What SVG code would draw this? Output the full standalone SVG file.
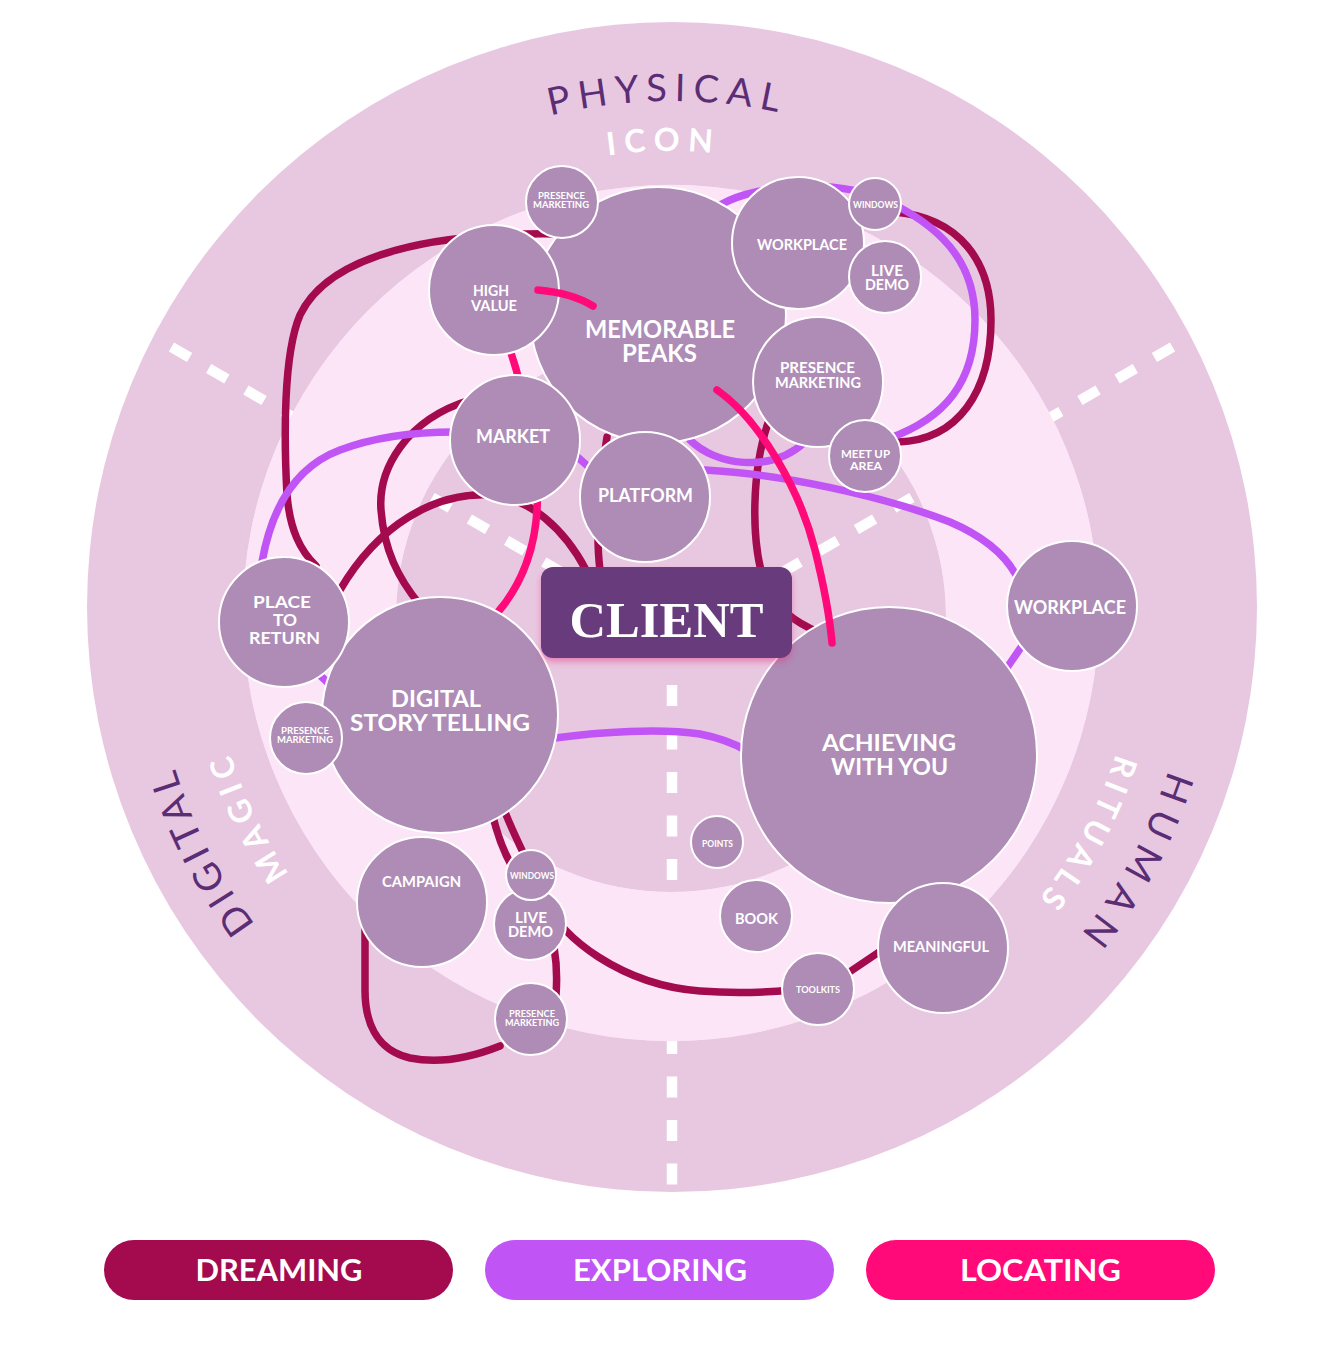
<svg xmlns="http://www.w3.org/2000/svg" width="1344" height="1345" viewBox="0 0 1344 1345">
<defs>
<style>
.bg-outer{fill:#e8c8e1}
.bg-band{fill:#fbe5f6}
.dash{fill:none;stroke:#fff;stroke-width:10.5;stroke-dasharray:21 22}
.node circle{fill:#ae8cb6;stroke:#fff;stroke-width:2}
.lbl{font-family:Lato,"Open Sans","Liberation Sans",sans-serif;font-weight:700;fill:#fff;text-anchor:middle}
.arc-big{font-family:Lato,"Open Sans","Liberation Sans",sans-serif;font-weight:400;fill:#5b2d75;font-size:38px}
.arc-small{font-family:Lato,"Open Sans","Liberation Sans",sans-serif;font-weight:700;fill:#fff;font-size:32px}
.c{fill:none;stroke-width:7.5;stroke-linecap:round}
.dream{stroke:#a30b4e}
.explore{stroke:#c054f5}
.locate{stroke:#ff0a78}
.pill-text{font-family:Lato,"Open Sans","Liberation Sans",sans-serif;font-weight:700;fill:#fff;font-size:30px;text-anchor:middle}
</style>
<clipPath id="outerClip"><circle cx="672" cy="607" r="585"/></clipPath>
<filter id="shadow" x="-10%" y="-20%" width="120%" height="150%">
<feDropShadow dx="0" dy="4" stdDeviation="3" flood-color="#e0307f" flood-opacity="0.45"/>
</filter>
<path id="arcPhysical" d="M 277.7,287 A 511,511 0 0 1 1060.6,280.2"/>
<path id="arcIcon" d="M 313.7,321.9 A 461,461 0 0 1 1019.9,309.5"/>
<path id="arcDigital" d="M 467.6,1091.2 A 521,521 0 0 1 164.5,493.9"/>
<path id="arcMagic" d="M 481.1,1034.9 A 464,464 0 0 1 222.4,497.4"/>
<path id="arcHuman" d="M 1182.5,508.1 A 521,521 0 0 1 862.9,1096.7"/>
<path id="arcRituals" d="M 1128.2,516.7 A 466,466 0 0 1 845.1,1044.7"/>
</defs>

<rect width="1344" height="1345" fill="#fff"/>

<g id="background">
<circle class="bg-outer" cx="672" cy="607" r="585"/>
<circle class="bg-band" cx="671" cy="613" r="428"/>
<circle class="bg-outer" cx="671" cy="617" r="275"/>
<g clip-path="url(#outerClip)">
<line class="dash" x1="672" y1="636" x2="135" y2="326" stroke-dashoffset="2"/>
<line class="dash" x1="672" y1="636" x2="1209" y2="326" stroke-dashoffset="2"/>
<line class="dash" x1="672" y1="685" x2="672" y2="1200" style="stroke-dasharray:21 22.5"/>
</g>
<path fill="#fbe5f6" fill-rule="evenodd" d="M 243,613 A 428,428 0 1 0 1099,613 A 428,428 0 1 0 243,613 Z M 396,617 A 275,275 0 1 0 946,617 A 275,275 0 1 0 396,617 Z"/>
</g>

<g id="sector-labels">
<text class="arc-big" letter-spacing="7.5"><textPath href="#arcPhysical" startOffset="50%" text-anchor="middle">PHYSICAL</textPath></text>
<text class="arc-small" letter-spacing="8"><textPath href="#arcIcon" startOffset="50%" text-anchor="middle">ICON</textPath></text>
<text class="arc-big" letter-spacing="5.5"><textPath href="#arcDigital" startOffset="50%" text-anchor="middle">DIGITAL</textPath></text>
<text class="arc-small" letter-spacing="7"><textPath href="#arcMagic" startOffset="50%" text-anchor="middle">MAGIC</textPath></text>
<text class="arc-big" letter-spacing="10"><textPath href="#arcHuman" startOffset="50%" text-anchor="middle">HUMAN</textPath></text>
<text class="arc-small" letter-spacing="6"><textPath href="#arcRituals" startOffset="50%" text-anchor="middle">RITUALS</textPath></text>
</g>

<g id="connectors">
<path class="c dream" d="M 560,234 C 440,232 330,252 300,315 C 283,355 284,440 287,495 C 290,530 300,550 316,566"/>
<path class="c dream" d="M 470,400 C 405,420 378,470 381,510 C 384,550 398,578 420,605"/>
<path class="c dream" d="M 340,590 C 378,525 435,492 490,495 C 530,497 565,530 586,570"/>
<path class="c dream" d="M 607,437 C 600,480 595,530 600,570"/>
<path class="c dream" d="M 768,423 C 752,470 750,540 765,585 C 778,610 795,622 818,632"/>
<path class="c dream" d="M 895,212 C 960,218 991,262 991,320 C 991,392 958,440 898,442"/>
<path class="c dream" d="M 492,812 C 498,840 508,862 520,880 C 545,905 560,940 556,995"/>
<path class="c dream" d="M 505,812 C 518,845 535,875 548,905 C 560,935 620,985 700,991 C 740,994 770,992 792,990"/>
<path class="c dream" d="M 848,973 L 885,948"/>
<path class="c dream" d="M 500,1046 C 470,1058 440,1064 410,1058 C 375,1050 365,1020 365,990 L 365,930"/>
<path class="c explore" d="M 262,562 C 273,500 300,465 340,450 C 380,435 420,432 455,432"/>
<path class="c explore" d="M 555,738 C 600,732 660,728 700,734 C 720,738 735,744 745,750"/>
<path class="c explore" d="M 720,205 C 760,182 850,178 895,205 C 948,232 975,268 975,320 C 975,382 945,418 890,438"/>
<path class="c explore" d="M 690,440 C 715,465 770,474 805,442"/>
<path class="c explore" d="M 705,470 C 780,474 880,495 950,522 C 985,537 1005,555 1016,575"/>
<path class="c explore" d="M 1026,640 L 1004,672"/>
<path class="c explore" d="M 572,452 L 592,470"/>
<path class="c explore" d="M 312,668 L 338,692"/>
<path class="c locate" d="M 510,350 C 522,385 540,460 537,510 C 534,560 515,592 498,612"/>
</g>

<g id="nodes">
<g id="n-memorable-peaks" class="node"><circle cx="658" cy="315" r="128"/>
<text class="lbl" x="660" y="338.3" font-size="24" textLength="150" lengthAdjust="spacingAndGlyphs">MEMORABLE</text>
<text class="lbl" x="659.5" y="361.7" font-size="24" textLength="75" lengthAdjust="spacingAndGlyphs">PEAKS</text></g>
<g id="n-presence-marketing-top" class="node"><circle cx="562" cy="202" r="36"/>
<text class="lbl" x="561.5" y="198.5" font-size="8.5" textLength="47" lengthAdjust="spacingAndGlyphs">PRESENCE</text>
<text class="lbl" x="561" y="207.5" font-size="8.5" textLength="56" lengthAdjust="spacingAndGlyphs">MARKETING</text></g>
<g id="n-high-value" class="node"><circle cx="494" cy="290" r="65"/>
<text class="lbl" x="491" y="296" font-size="15" textLength="36" lengthAdjust="spacingAndGlyphs">HIGH</text>
<text class="lbl" x="494" y="311" font-size="15" textLength="46" lengthAdjust="spacingAndGlyphs">VALUE</text></g>
<g id="n-workplace-top" class="node"><circle cx="798" cy="243" r="66"/>
<text class="lbl" x="802" y="250" font-size="15.5" textLength="90" lengthAdjust="spacingAndGlyphs">WORKPLACE</text></g>
<g id="n-windows-top" class="node"><circle cx="875" cy="204" r="26"/>
<text class="lbl" x="875.5" y="207.7" font-size="8.5" textLength="45" lengthAdjust="spacingAndGlyphs">WINDOWS</text></g>
<g id="n-live-demo-top" class="node"><circle cx="885" cy="277" r="36"/>
<text class="lbl" x="887" y="276" font-size="15.5" textLength="32" lengthAdjust="spacingAndGlyphs">LIVE</text>
<text class="lbl" x="887" y="290" font-size="15.5" textLength="44" lengthAdjust="spacingAndGlyphs">DEMO</text></g>
<g id="n-presence-marketing-right" class="node"><circle cx="818" cy="382" r="65"/>
<text class="lbl" x="817.5" y="373.3" font-size="15" textLength="75" lengthAdjust="spacingAndGlyphs">PRESENCE</text>
<text class="lbl" x="818" y="388.3" font-size="15" textLength="86" lengthAdjust="spacingAndGlyphs">MARKETING</text></g>
<g id="n-meet-up-area" class="node"><circle cx="865" cy="456" r="36"/>
<text class="lbl" x="865.5" y="458.3" font-size="11.5" textLength="49" lengthAdjust="spacingAndGlyphs">MEET UP</text>
<text class="lbl" x="866" y="470" font-size="11.5" textLength="32" lengthAdjust="spacingAndGlyphs">AREA</text></g>
<g id="n-market" class="node"><circle cx="515" cy="440" r="65"/>
<text class="lbl" x="513" y="443.3" font-size="18.5" textLength="74" lengthAdjust="spacingAndGlyphs">MARKET</text></g>
<g id="n-platform" class="node"><circle cx="645" cy="497" r="65"/>
<text class="lbl" x="645.5" y="502" font-size="19" textLength="95" lengthAdjust="spacingAndGlyphs">PLATFORM</text></g>
<g id="n-digital-story-telling" class="node"><circle cx="440" cy="715" r="118"/>
<text class="lbl" x="436" y="706.7" font-size="23" textLength="90" lengthAdjust="spacingAndGlyphs">DIGITAL</text>
<text class="lbl" x="440" y="730.7" font-size="23" textLength="180" lengthAdjust="spacingAndGlyphs">STORY TELLING</text></g>
<g id="n-place-to-return" class="node"><circle cx="284" cy="622" r="65"/>
<text class="lbl" x="282" y="608.3" font-size="17.5" textLength="58" lengthAdjust="spacingAndGlyphs">PLACE</text>
<text class="lbl" x="285" y="626" font-size="17.5" textLength="24" lengthAdjust="spacingAndGlyphs">TO</text>
<text class="lbl" x="284.5" y="644" font-size="17.5" textLength="71" lengthAdjust="spacingAndGlyphs">RETURN</text></g>
<g id="n-presence-marketing-left" class="node"><circle cx="306" cy="738" r="36"/>
<text class="lbl" x="305" y="734.3" font-size="8.5" textLength="48" lengthAdjust="spacingAndGlyphs">PRESENCE</text>
<text class="lbl" x="305" y="743.3" font-size="8.5" textLength="56" lengthAdjust="spacingAndGlyphs">MARKETING</text></g>
<g id="n-workplace-right" class="node"><circle cx="1072" cy="606" r="65"/>
<text class="lbl" x="1070" y="614.3" font-size="19" textLength="112" lengthAdjust="spacingAndGlyphs">WORKPLACE</text></g>
<g id="n-achieving-with-you" class="node"><circle cx="889" cy="755" r="148"/>
<text class="lbl" x="889" y="750.7" font-size="23" textLength="134" lengthAdjust="spacingAndGlyphs">ACHIEVING</text>
<text class="lbl" x="889.5" y="775" font-size="23" textLength="117" lengthAdjust="spacingAndGlyphs">WITH YOU</text></g>
<g id="n-meaningful" class="node"><circle cx="943" cy="948" r="65"/>
<text class="lbl" x="941" y="951.7" font-size="15.5" textLength="96" lengthAdjust="spacingAndGlyphs">MEANINGFUL</text></g>
<g id="n-points" class="node"><circle cx="717" cy="842" r="26"/>
<text class="lbl" x="717.5" y="847.3" font-size="9.5" textLength="31" lengthAdjust="spacingAndGlyphs">POINTS</text></g>
<g id="n-book" class="node"><circle cx="756" cy="916" r="36"/>
<text class="lbl" x="756.5" y="924" font-size="15" textLength="43" lengthAdjust="spacingAndGlyphs">BOOK</text></g>
<g id="n-toolkits" class="node"><circle cx="818" cy="989" r="36"/>
<text class="lbl" x="818" y="992.7" font-size="10" textLength="44" lengthAdjust="spacingAndGlyphs">TOOLKITS</text></g>
<g id="n-campaign" class="node"><circle cx="422" cy="902" r="65"/>
<text class="lbl" x="421.5" y="886.7" font-size="16" textLength="79" lengthAdjust="spacingAndGlyphs">CAMPAIGN</text></g>
<g id="n-live-demo-bottom" class="node"><circle cx="530" cy="924" r="36"/>
<text class="lbl" x="531" y="923" font-size="15" textLength="32" lengthAdjust="spacingAndGlyphs">LIVE</text>
<text class="lbl" x="530.5" y="937" font-size="15" textLength="45" lengthAdjust="spacingAndGlyphs">DEMO</text></g>
<g id="n-windows-bottom" class="node"><circle cx="531" cy="875" r="25"/>
<text class="lbl" x="532" y="879" font-size="9" textLength="44" lengthAdjust="spacingAndGlyphs">WINDOWS</text></g>
<g id="n-presence-marketing-bottom" class="node"><circle cx="531" cy="1019" r="36"/>
<text class="lbl" x="532" y="1017.3" font-size="9" textLength="46" lengthAdjust="spacingAndGlyphs">PRESENCE</text>
<text class="lbl" x="532" y="1026" font-size="9" textLength="54" lengthAdjust="spacingAndGlyphs">MARKETING</text></g>
<g id="n-client">
<rect x="541" y="567" width="251" height="91" rx="12" fill="#673a7b" filter="url(#shadow)"/>
<text x="666.5" y="637" font-family="'Liberation Serif','Times New Roman',serif" font-weight="700" font-size="50" fill="#fff" text-anchor="middle" textLength="194" lengthAdjust="spacingAndGlyphs">CLIENT</text>
</g>
</g>

<g id="connectors-over">
<path class="c locate" d="M 538,290 C 560,292 580,298 593,306"/>
<path class="c locate" d="M 717,390 C 760,420 800,490 815,550 C 825,590 830,620 832,643"/>
</g>

<g id="legend">
<g id="legend-dreaming"><rect x="104" y="1240" width="349" height="60" rx="30" fill="#a30b4e"/>
<text class="pill-text" x="279" y="1281" textLength="167" lengthAdjust="spacingAndGlyphs">DREAMING</text></g>
<g id="legend-exploring"><rect x="485" y="1240" width="349" height="60" rx="30" fill="#c054f5"/>
<text class="pill-text" x="660" y="1281" textLength="174" lengthAdjust="spacingAndGlyphs">EXPLORING</text></g>
<g id="legend-locating"><rect x="866" y="1240" width="349" height="60" rx="30" fill="#ff0a78"/>
<text class="pill-text" x="1040.5" y="1281" textLength="161" lengthAdjust="spacingAndGlyphs">LOCATING</text></g>
</g>
</svg>
